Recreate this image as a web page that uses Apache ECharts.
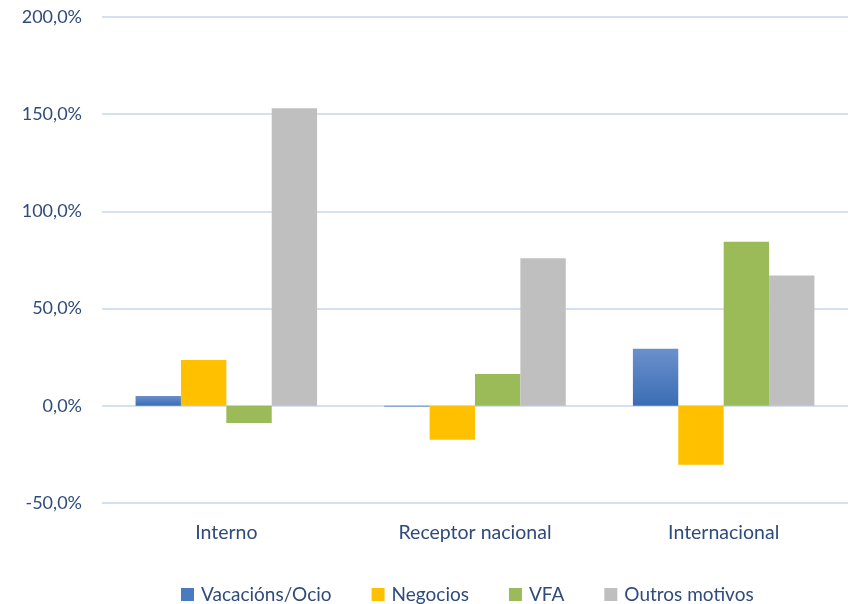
<!DOCTYPE html>
<html>
<head>
<meta charset="utf-8">
<script src="https://cdn.jsdelivr.net/npm/echarts@6/dist/echarts.min.js"></script>
<style>
  html, body { margin: 0; padding: 0; background: #fff; }
  #chart { width: 850px; height: 604px; }
</style>
</head>
<body>
<div id="chart"></div>
<script>
// Datos leídos da gráfica (%)
const categories = ['Interno', 'Receptor nacional', 'Internacional'];
const vacacions = [5.1, -0.4, 29.3];
const negocios = [23.6, -17.5, -30.3];
const vfa = [-8.9, 16.3, 84.4];
const outros = [153.0, 75.9, 67.0];
const seriesNames = ['Vacacións/Ocio', 'Negocios', 'VFA', 'Outros motivos'];

const chart = echarts.init(document.getElementById('chart'));
const font = 'Lato, "Open Sans", sans-serif';
const textColor = '#2F4B7C';

const blueGrad = new echarts.graphic.LinearGradient(0, 0, 0, 1, [
  { offset: 0, color: '#6B90CC' },
  { offset: 1, color: '#3B6DB4' }
]);

function bar(name, data, color) {
  return {
    name: name,
    type: 'bar',
    data: data,
    barGap: '0%',
    barCategoryGap: '27%',
    itemStyle: { color: color },
    emphasis: { disabled: true }
  };
}

const option = {
  animation: false,
  textStyle: { fontFamily: font },
  grid: { left: 102, right: 2, top: 17, bottom: 101, containLabel: false },
  legend: {
    top: 580,
    left: 176,
    itemWidth: 13,
    itemHeight: 13,
    itemGap: 40,
    icon: 'rect',
    textStyle: { color: textColor, fontSize: 19, fontFamily: font, padding: [0, 0, 0, 2] },
    data: [
      { name: seriesNames[0], itemStyle: { color: '#4A7BC0' } },
      seriesNames[1], seriesNames[2], seriesNames[3]
    ]
  },
  xAxis: {
    type: 'category',
    data: categories,
    position: 'bottom',
    axisLine: { show: false },
    axisTick: { show: false },
    axisLabel: { color: textColor, fontSize: 19.5, margin: 20, fontFamily: font }
  },
  yAxis: {
    type: 'value',
    min: -50,
    max: 200,
    interval: 50,
    axisLine: { show: false },
    axisTick: { show: false },
    splitLine: { lineStyle: { color: '#D6E0F0', width: 2 } },
    axisLabel: {
      color: textColor,
      fontSize: 18,
      margin: 20,
      fontFamily: font,
      formatter: v => v.toFixed(1).replace('.', ',') + '%'
    }
  },
  series: [
    bar(seriesNames[0], vacacions, blueGrad),
    bar(seriesNames[1], negocios, '#FFC000'),
    bar(seriesNames[2], vfa, '#9BBB59'),
    bar(seriesNames[3], outros, '#BFBFBF')
  ]
};

chart.setOption(option);
</script>
</body>
</html>
